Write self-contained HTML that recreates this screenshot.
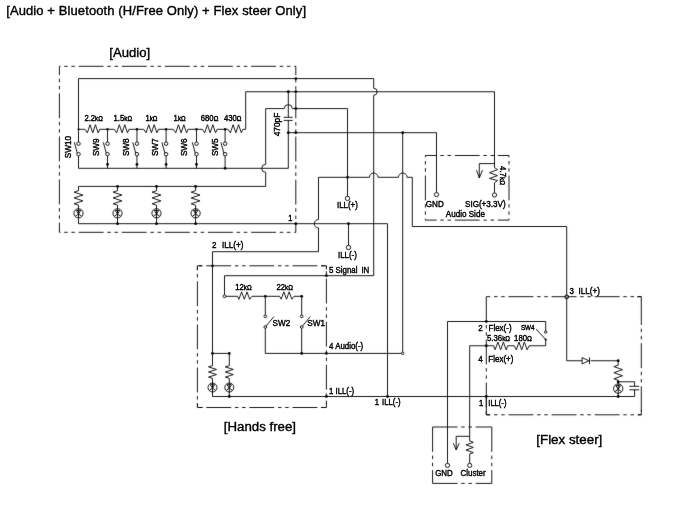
<!DOCTYPE html>
<html><head><meta charset="utf-8"><style>
html,body{margin:0;padding:0;background:#fff;}
svg{display:block;filter:grayscale(1);}
svg text{font-family:"Liberation Sans",sans-serif;fill:#000;stroke:#000;stroke-width:0.38px;}
path{fill:none;stroke:#000;stroke-width:0.9;}
.d{stroke-dasharray:24.9 3.7 3.5 3.7 3.5 3.8;}
.f{fill:#000;stroke:none;}
.o{fill:#fff;stroke:#000;stroke-width:0.9;}
</style></head><body>
<svg width="700" height="527" viewBox="0 0 700 527">
<defs><filter id="bl" x="0" y="0" width="700" height="527" filterUnits="userSpaceOnUse" color-interpolation-filters="sRGB"><feConvolveMatrix order="3" kernelMatrix="49 602 49 602 7396 602 49 602 49" divisor="10000" edgeMode="duplicate"/></filter></defs>
<rect width="700" height="527" fill="#fff"/>
<g filter="url(#bl)">
<rect width="700" height="527" fill="#fff"/>
<path d="M59.4,66.3 L295.8,66.3" class="d" stroke-dashoffset="23.80"/>
<path d="M59.4,66.3 L59.4,232.3" class="d" stroke-dashoffset="16.10"/>
<path d="M59.4,232.3 L295.8,232.3" class="d" stroke-dashoffset="23.80"/>
<path d="M295.8,66.3 L295.8,232.3" class="d" stroke-dashoffset="15.90"/>
<path d="M78.50,129.30 L78.50,78.60 L373.70,78.60" />
<path d="M373.7,78.6 L373.7,88.25 A3.5,3.5 0 0 1 373.7,95.25 L373.7,275.7 L326.4,275.7" />
<circle cx="295.8" cy="78.6" r="1.4" class="f"/>
<path d="M78.50,129.30 L84.90,129.30 L87.34,132.80 L90.04,124.70 L92.74,132.80 L95.44,124.70 L98.15,132.80 L99.70,129.30 L114.20,129.30 L116.64,132.80 L119.34,124.70 L122.04,132.80 L124.74,124.70 L127.45,132.80 L129.00,129.30 L143.60,129.30 L146.04,132.80 L148.74,124.70 L151.44,132.80 L154.15,124.70 L156.85,132.80 L158.40,129.30 L173.30,129.30 L175.74,132.80 L178.44,124.70 L181.14,132.80 L183.84,124.70 L186.55,132.80 L188.10,129.30 L202.30,129.30 L204.74,132.80 L207.44,124.70 L210.14,132.80 L212.84,124.70 L215.55,132.80 L217.10,129.30 L227.90,129.30 L230.38,132.80 L233.11,124.70 L235.85,132.80 L238.59,124.70 L241.32,132.80 L242.90,129.30 L245.70,129.30 L245.70,91.75" />
<circle cx="78.5" cy="129.3" r="1.0" class="f"/>
<circle cx="107.5" cy="129.3" r="1.2" class="f"/>
<circle cx="136.95" cy="129.3" r="1.2" class="f"/>
<circle cx="166.1" cy="129.3" r="1.2" class="f"/>
<circle cx="196.5" cy="129.3" r="1.2" class="f"/>
<circle cx="225.1" cy="129.3" r="1.2" class="f"/>
<path d="M245.70,91.75 L494.50,91.75 L494.50,167.60" />
<circle cx="288.3" cy="91.75" r="1.4" class="f"/>
<circle cx="295.8" cy="91.75" r="1.4" class="f"/>
<path d="M78.50,129.30 L78.50,142.00" />
<circle cx="78.5" cy="143.7" r="1.75" class="o" stroke-width="0.8"/>
<circle cx="78.5" cy="154.2" r="1.75" class="o" stroke-width="0.8"/>
<path d="M77.30,153.20 L74.30,142.30" />
<path d="M78.50,155.95 L78.50,168.30" />
<path d="M107.50,129.30 L107.50,142.00" />
<circle cx="107.5" cy="143.7" r="1.75" class="o" stroke-width="0.8"/>
<circle cx="107.5" cy="154.2" r="1.75" class="o" stroke-width="0.8"/>
<path d="M106.30,153.20 L103.30,142.30" />
<path d="M107.50,155.95 L107.50,168.30" />
<circle cx="107.5" cy="164.4" r="1.4" class="f"/>
<path d="M136.95,129.30 L136.95,142.00" />
<circle cx="136.95" cy="143.7" r="1.75" class="o" stroke-width="0.8"/>
<circle cx="136.95" cy="154.2" r="1.75" class="o" stroke-width="0.8"/>
<path d="M135.75,153.20 L132.75,142.30" />
<path d="M136.95,155.95 L136.95,168.30" />
<circle cx="136.95" cy="164.4" r="1.4" class="f"/>
<path d="M166.10,129.30 L166.10,142.00" />
<circle cx="166.1" cy="143.7" r="1.75" class="o" stroke-width="0.8"/>
<circle cx="166.1" cy="154.2" r="1.75" class="o" stroke-width="0.8"/>
<path d="M164.90,153.20 L161.90,142.30" />
<path d="M166.10,155.95 L166.10,168.30" />
<circle cx="166.1" cy="164.4" r="1.4" class="f"/>
<path d="M196.50,129.30 L196.50,142.00" />
<circle cx="196.5" cy="143.7" r="1.75" class="o" stroke-width="0.8"/>
<circle cx="196.5" cy="154.2" r="1.75" class="o" stroke-width="0.8"/>
<path d="M195.30,153.20 L192.30,142.30" />
<path d="M196.50,155.95 L196.50,168.30" />
<circle cx="196.5" cy="164.4" r="1.4" class="f"/>
<path d="M225.10,129.30 L225.10,142.00" />
<circle cx="225.1" cy="143.7" r="1.75" class="o" stroke-width="0.8"/>
<circle cx="225.1" cy="154.2" r="1.75" class="o" stroke-width="0.8"/>
<path d="M223.90,153.20 L220.90,142.30" />
<path d="M225.10,155.95 L225.10,168.30" />
<circle cx="225.1" cy="168.3" r="1.4" class="f"/>
<path d="M78.50,168.30 L288.30,168.30 L288.30,120.40" />
<path d="M283.70,117.30 L292.70,117.30" />
<path d="M283.70,120.40 L292.70,120.40" />
<path d="M288.30,91.75 L288.30,117.30" />
<circle cx="288.3" cy="132.7" r="1.4" class="f"/>
<path d="M288.30,132.70 L436.50,132.70 L436.50,192.50" />
<circle cx="295.8" cy="132.7" r="1.4" class="f"/>
<circle cx="402.7" cy="132.7" r="1.4" class="f"/>
<path d="M265.7,186.4 L265.7,172.3 A4,4 0 0 1 265.7,164.3 L265.7,108.6 L284.3,108.6 A4,4 0 0 1 292.3,108.6 L347.5,108.6 L347.5,196.4" />
<circle cx="295.8" cy="108.6" r="1.4" class="f"/>
<circle cx="347.5" cy="198.4" r="2.2" class="o" stroke-width="0.9"/>
<path d="M78.50,186.40 L265.70,186.40" />
<path d="M78.50,190.70 L74.10,192.15 L82.90,195.05 L74.10,197.95 L82.90,200.85 L74.10,203.75 L78.50,205.20 L78.50,223.70" />
<path d="M78.50,186.40 L78.50,190.70" />
<circle cx="78.5" cy="213.3" r="4.6" class="o"/>
<path d="M76.30,210.43 L80.70,210.43 L78.50,214.07 Z M78.50,214.07 L75.34,216.18 M78.50,214.07 L81.66,216.18 M78.50,208.70 L78.50,217.90" stroke-width="0.9"/>
<path d="M117.50,190.70 L113.10,192.15 L121.90,195.05 L113.10,197.95 L121.90,200.85 L113.10,203.75 L117.50,205.20 L117.50,223.70" />
<path d="M117.50,186.40 L117.50,190.70" />
<circle cx="117.5" cy="213.3" r="4.6" class="o"/>
<path d="M115.30,210.43 L119.70,210.43 L117.50,214.07 Z M117.50,214.07 L114.34,216.18 M117.50,214.07 L120.66,216.18 M117.50,208.70 L117.50,217.90" stroke-width="0.9"/>
<circle cx="117.5" cy="186.4" r="1.4" class="f"/>
<circle cx="117.5" cy="223.7" r="1.4" class="f"/>
<path d="M156.50,190.70 L152.10,192.15 L160.90,195.05 L152.10,197.95 L160.90,200.85 L152.10,203.75 L156.50,205.20 L156.50,223.70" />
<path d="M156.50,186.40 L156.50,190.70" />
<circle cx="156.5" cy="213.3" r="4.6" class="o"/>
<path d="M154.30,210.43 L158.70,210.43 L156.50,214.07 Z M156.50,214.07 L153.34,216.18 M156.50,214.07 L159.66,216.18 M156.50,208.70 L156.50,217.90" stroke-width="0.9"/>
<circle cx="156.5" cy="186.4" r="1.4" class="f"/>
<circle cx="156.5" cy="223.7" r="1.4" class="f"/>
<path d="M195.60,190.70 L191.20,192.15 L200.00,195.05 L191.20,197.95 L200.00,200.85 L191.20,203.75 L195.60,205.20 L195.60,223.70" />
<path d="M195.60,186.40 L195.60,190.70" />
<circle cx="195.6" cy="213.3" r="4.6" class="o"/>
<path d="M193.40,210.43 L197.80,210.43 L195.60,214.07 Z M195.60,214.07 L192.44,216.18 M195.60,214.07 L198.76,216.18 M195.60,208.70 L195.60,217.90" stroke-width="0.9"/>
<circle cx="195.6" cy="186.4" r="1.4" class="f"/>
<circle cx="195.6" cy="223.7" r="1.4" class="f"/>
<path d="M78.5,223.7 L387.5,223.7 L387.5,396.5" />
<circle cx="295.8" cy="223.7" r="1.4" class="f"/>
<circle cx="348.5" cy="223.7" r="1.4" class="f"/>
<path d="M348.50,223.70 L348.50,245.30" />
<circle cx="348.5" cy="247.5" r="2.2" class="o" stroke-width="0.9"/>
<path d="M412.3,226.5 L412.3,177.3 L407.0,177.3 A4.3,4.3 0 0 0 398.4,177.3 L378.0,177.3 A4.3,4.3 0 0 0 369.4,177.3 L318.5,177.3 L318.5,219.5 A4.2,4.2 0 0 0 318.5,227.89999999999998 L318.5,251.7 L212.5,251.7 L212.5,353.4 L229.3,353.4" />
<circle cx="347.5" cy="177.3" r="1.4" class="f"/>
<path d="M402.70,132.70 L402.70,352.20" />
<path d="M401.50,353.40 L326.40,353.40" />
<circle cx="402.7" cy="353.4" r="1.2" class="o" stroke-width="0.8"/>
<path d="M412.30,226.50 L566.70,226.50 L566.70,360.75 L582.10,360.75" />
<path d="M425.4,155.5 L509.0,155.5" class="d" stroke-dashoffset="13.70"/>
<path d="M425.4,155.5 L425.4,220.1" class="d" stroke-dashoffset="23.10"/>
<path d="M425.4,220.1 L509.0,220.1" class="d" stroke-dashoffset="13.70"/>
<path d="M509.0,155.5 L509.0,220.1" class="d" stroke-dashoffset="23.10"/>
<circle cx="436.5" cy="194.6" r="2.1" class="o" stroke-width="0.9"/>
<path d="M494.50,167.60 L497.50,169.60 L489.50,172.70 L497.50,175.60 L489.50,178.50 L497.50,180.50 L494.50,182.80 L494.50,192.90" />
<circle cx="494.5" cy="195.0" r="2.1" class="o" stroke-width="0.9"/>
<path d="M494.50,163.60 L479.30,163.60 L479.30,178.00" />
<path d="M476.50,170.00 L479.30,178.00 L482.50,170.00" />
<path d="M197.4,265.8 L326.4,265.8" class="d" stroke-dashoffset="34.20"/>
<path d="M197.4,265.8 L197.4,407.5" class="d" stroke-dashoffset="27.60"/>
<path d="M197.4,407.5 L326.4,407.5" class="d" stroke-dashoffset="34.20"/>
<path d="M326.4,265.8 L326.4,407.5" class="d" stroke-dashoffset="30.30"/>
<path d="M197.40,269.90 L197.40,265.80 L202.00,265.80" />
<path d="M321.20,265.80 L326.40,265.80 L326.40,269.40" />
<path d="M321.20,407.50 L326.40,407.50 L326.40,403.20" />
<path d="M197.40,403.40 L197.40,407.50 L202.50,407.50" />
<circle cx="212.5" cy="265.8" r="1.4" class="f"/>
<circle cx="212.5" cy="353.4" r="1.4" class="f"/>
<circle cx="229.3" cy="353.4" r="1.4" class="f"/>
<path d="M212.50,353.40 L212.50,365.60 L208.50,366.88 L216.50,369.44 L208.50,372.00 L216.50,374.56 L208.50,377.12 L212.50,378.40 L212.50,396.50" />
<circle cx="212.5" cy="387.5" r="4.5" class="o"/>
<path d="M210.34,384.69 L214.66,384.69 L212.50,388.25 Z M212.50,388.25 L209.41,390.31 M212.50,388.25 L215.59,390.31 M212.50,383.00 L212.50,392.00" stroke-width="0.9"/>
<path d="M229.30,353.40 L229.30,365.60 L225.30,366.88 L233.30,369.44 L225.30,372.00 L233.30,374.56 L225.30,377.12 L229.30,378.40 L229.30,396.50" />
<circle cx="229.3" cy="387.5" r="4.5" class="o"/>
<path d="M227.14,384.69 L231.46,384.69 L229.30,388.25 Z M229.30,388.25 L226.21,390.31 M229.30,388.25 L232.39,390.31 M229.30,383.00 L229.30,392.00" stroke-width="0.9"/>
<path d="M212.50,396.50 L634.60,396.50 L634.60,389.80" />
<circle cx="229.3" cy="396.5" r="1.4" class="f"/>
<circle cx="326.4" cy="396.5" r="1.4" class="f"/>
<circle cx="387.5" cy="396.5" r="1.4" class="f"/>
<circle cx="486.3" cy="396.5" r="1.4" class="f"/>
<circle cx="618.2" cy="396.5" r="1.4" class="f"/>
<path d="M326.40,275.70 L224.50,275.70 L224.50,294.90" />
<circle cx="326.4" cy="275.7" r="1.4" class="f"/>
<circle cx="224.5" cy="296.3" r="1.4" class="o" stroke-width="0.9"/>
<path d="M225.90,296.30 L237.60,296.30 L238.90,299.30 L241.60,291.90 L244.30,299.30 L247.00,291.90 L249.70,299.30 L252.00,296.30 L265.30,296.30 L279.60,296.30 L281.18,299.20 L283.85,291.80 L286.51,299.20 L289.18,291.80 L291.84,299.20 L294.00,296.30 L301.70,296.30" />
<circle cx="265.3" cy="296.3" r="1.4" class="f"/>
<circle cx="301.7" cy="296.3" r="1.4" class="f"/>
<path d="M265.30,296.30 L265.30,315.05" />
<circle cx="265.3" cy="316.4" r="1.35" class="o" stroke-width="0.8"/>
<circle cx="265.3" cy="327" r="1.35" class="o" stroke-width="0.8"/>
<path d="M266.10,326.00 L273.90,316.60" />
<path d="M265.30,328.35 L265.30,353.40" />
<path d="M301.70,296.30 L301.70,315.05" />
<circle cx="301.7" cy="316.4" r="1.35" class="o" stroke-width="0.8"/>
<circle cx="301.7" cy="327" r="1.35" class="o" stroke-width="0.8"/>
<path d="M302.50,326.00 L310.30,316.60" />
<path d="M301.70,328.35 L301.70,353.40" />
<path d="M265.30,353.40 L326.40,353.40" />
<circle cx="301.7" cy="353.4" r="1.4" class="f"/>
<circle cx="326.4" cy="353.4" r="1.4" class="f"/>
<path d="M486.3,296.7 L641.3,296.7" class="d" stroke-dashoffset="20.90"/>
<path d="M486.3,296.7 L486.3,414.8" class="d" stroke-dashoffset="0.30"/>
<path d="M486.3,414.8 L641.3,414.8" class="d" stroke-dashoffset="20.90"/>
<path d="M641.3,296.7 L641.3,414.8" class="d" stroke-dashoffset="39.70"/>
<path d="M637.20,296.70 L641.30,296.70 L641.30,300.50" />
<path d="M641.30,410.00 L641.30,414.80 L637.80,414.80" />
<path d="M486.30,396.50 L486.30,414.80 L490.00,414.80" />
<circle cx="566.7" cy="296.8" r="1.9" fill="#888" stroke="#000" stroke-width="1.0"/>
<path d="M447.50,463.40 L447.50,321.50 L545.70,321.50 L545.70,330.80" />
<circle cx="486.3" cy="321.5" r="1.4" class="f"/>
<circle cx="545.7" cy="332.0" r="1.2" class="o" stroke-width="0.8"/>
<circle cx="545.7" cy="339.6" r="1.1" class="f"/>
<path d="M545.20,339.00 L536.10,329.00" />
<path d="M545.70,339.60 L545.70,345.75 L529.10,345.75 L527.10,349.80 L524.40,342.00 L521.70,349.80 L519.00,342.00 L516.30,349.80 L514.30,345.75 L507.70,345.75 L506.15,349.80 L503.40,342.00 L500.65,349.80 L497.90,342.00 L495.15,349.80 L493.60,345.75 L469.70,345.75 L469.70,436.30" />
<circle cx="486.3" cy="345.75" r="1.4" class="f"/>
<path d="M590.70,360.75 L618.20,360.75" />
<path d="M582.10,357.55 L588.90,360.75 L582.10,363.95 L582.10,357.55" />
<path d="M589.50,357.35 L589.50,364.15" />
<circle cx="618.2" cy="360.75" r="1.4" class="f"/>
<path d="M618.20,365.10 L613.90,366.62 L622.50,369.66 L613.90,372.70 L622.50,375.74 L613.90,378.78 L618.20,380.30" />
<path d="M618.20,360.75 L618.20,365.10" />
<path d="M618.20,380.30 L618.20,396.50" />
<circle cx="618.2" cy="388.6" r="4.7" class="o"/>
<path d="M615.95,385.66 L620.45,385.66 L618.20,389.38 Z M618.20,389.38 L614.97,391.54 M618.20,389.38 L621.43,391.54 M618.20,383.90 L618.20,393.30" stroke-width="0.9"/>
<circle cx="618.2" cy="381.8" r="1.4" class="f"/>
<path d="M618.20,381.80 L634.60,381.80 L634.60,386.30" />
<path d="M629.30,386.30 L639.20,386.30" />
<path d="M629.30,389.80 L639.20,389.80" />
<path d="M432.6,427.0 L491.8,427.0" class="d" stroke-dashoffset="0.00" stroke-dasharray="24.2 3.4 3.9 3.4 40"/>
<path d="M432.6,427.0 L432.6,483.4" class="d" stroke-dashoffset="0.00" stroke-dasharray="22.6 3.4 3.8 3.7 40"/>
<path d="M432.6,483.4 L491.8,483.4" class="d" stroke-dashoffset="0.00" stroke-dasharray="24.2 3.4 3.9 3.4 40"/>
<path d="M491.8,427.0 L491.8,483.4" class="d" stroke-dashoffset="0.00" stroke-dasharray="22.6 3.4 3.8 3.7 40"/>
<circle cx="447.5" cy="465.4" r="2.1" class="o" stroke-width="0.9"/>
<path d="M469.70,436.30 L469.70,441.00 L473.30,442.29 L466.10,444.87 L473.30,447.45 L466.10,450.03 L473.30,452.61 L469.70,453.90 L469.70,463.30" />
<circle cx="469.7" cy="465.4" r="2.1" class="o" stroke-width="0.9"/>
<path d="M469.70,436.30 L456.20,436.30 L456.20,449.90" />
<path d="M453.30,443.20 L456.20,449.90 L459.20,443.20" />
</g>
<text x="0" y="0" font-size="13.0" text-anchor="start" transform="matrix(1 0 0 1.0 6.2 14.95)" letter-spacing="0.1">[Audio + Bluetooth (H/Free Only) + Flex steer Only]</text>
<text x="0" y="0" font-size="13.1" text-anchor="start" transform="matrix(1 0 0 1.0 109.3 56.9)" >[Audio]</text>
<text x="0" y="0" font-size="13.25" text-anchor="start" transform="matrix(1 0 0 1.0 223.8 431.4)" >[Hands free]</text>
<text x="0" y="0" font-size="13.35" text-anchor="start" transform="matrix(1 0 0 1.0 536.3 443.5)" >[Flex steer]</text>
<text x="0" y="0" font-size="7.5" text-anchor="start" transform="matrix(1 0 0 1.1 288.2 221.2)" >1</text>
<text x="0" y="0" font-size="7.9" text-anchor="start" transform="matrix(1 0 0 1.1 337.0 208.3)" >ILL(+)</text>
<text x="0" y="0" font-size="7.9" text-anchor="start" transform="matrix(1 0 0 1.1 338.0 257.6)" >ILL(-)</text>
<text x="0" y="0" font-size="7.9" text-anchor="start" transform="matrix(0 1 -1.1 0 499.6 166)" >4.7<tspan font-size="6.4">k&#937;</tspan></text>
<text x="0" y="0" font-size="8.1" text-anchor="start" transform="matrix(1 0 0 1.1 425.8 206.6)" >GND</text>
<text x="0" y="0" font-size="8.1" text-anchor="start" transform="matrix(1 0 0 1.1 465 206.6)" >SIG(+3.3V)</text>
<text x="0" y="0" font-size="8.1" text-anchor="start" transform="matrix(1 0 0 1.1 445.8 217.2)" >Audio Side</text>
<text x="0" y="0" font-size="8.0" text-anchor="start" transform="matrix(1 0 0 1.1 212.1 248.4)" >2</text>
<text x="0" y="0" font-size="8.2" text-anchor="start" transform="matrix(1 0 0 1.1 221.9 248.4)" >ILL(+)</text>
<text x="0" y="0" font-size="7.7" text-anchor="start" transform="matrix(1 0 0 1.1 235.3 289.9)" >12<tspan font-size="6.3">k&#937;</tspan></text>
<text x="0" y="0" font-size="7.7" text-anchor="start" transform="matrix(1 0 0 1.1 276.5 289.9)" >22<tspan font-size="6.3">k&#937;</tspan></text>
<text x="0" y="0" font-size="8.2" text-anchor="start" transform="matrix(1 0 0 1.1 272.6 326.0)" >SW2</text>
<text x="0" y="0" font-size="8.2" text-anchor="start" transform="matrix(1 0 0 1.1 307.2 326.0)" >SW1</text>
<text x="0" y="0" font-size="7.9" text-anchor="start" transform="matrix(1 0 0 1.1 328.9 272.9)" >5 Signal</text>
<text x="0" y="0" font-size="7.9" text-anchor="start" transform="matrix(1 0 0 1.1 361.4 272.9)" >IN</text>
<text x="0" y="0" font-size="7.9" text-anchor="start" transform="matrix(1 0 0 1.1 329.0 349.4)" >4 Audio(-)</text>
<text x="0" y="0" font-size="7.8" text-anchor="start" transform="matrix(1 0 0 1.1 329.0 394.0)" >1 ILL(-)</text>
<text x="0" y="0" font-size="7.8" text-anchor="start" transform="matrix(1 0 0 1.1 374.7 405.3)" >1</text>
<text x="0" y="0" font-size="7.8" text-anchor="start" transform="matrix(1 0 0 1.1 382.0 405.3)" >ILL(-)</text>
<text x="0" y="0" font-size="7.9" text-anchor="start" transform="matrix(1 0 0 1.1 569.5 293.5)" >3</text>
<text x="0" y="0" font-size="8.1" text-anchor="start" transform="matrix(1 0 0 1.1 578.6 293.5)" >ILL(+)</text>
<text x="0" y="0" font-size="8.0" text-anchor="start" transform="matrix(1 0 0 1.1 478.2 330.8)" >2</text>
<text x="0" y="0" font-size="8.0" text-anchor="start" transform="matrix(1 0 0 1.1 488.5 330.8)" >Flex(-)</text>
<text x="0" y="0" font-size="8.0" text-anchor="start" transform="matrix(1 0 0 1.1 478.2 361.8)" >4</text>
<text x="0" y="0" font-size="8.0" text-anchor="start" transform="matrix(1 0 0 1.1 488.3 361.8)" >Flex(+)</text>
<text x="0" y="0" font-size="7.6" text-anchor="start" transform="matrix(1 0 0 1.1 479.0 406.3)" >1</text>
<text x="0" y="0" font-size="7.6" text-anchor="start" transform="matrix(1 0 0 1.1 488.3 406.3)" >ILL(-)</text>
<text x="0" y="0" font-size="6.3" text-anchor="start" transform="matrix(1 0 0 1.1 520.9 330.0)" >SW4</text>
<text x="0" y="0" font-size="7.8" text-anchor="start" transform="matrix(1 0 0 1.1 487.0 340.9)" >5.36<tspan font-size="6.3">k&#937;</tspan></text>
<text x="0" y="0" font-size="7.8" text-anchor="start" transform="matrix(1 0 0 1.1 514.1 340.9)" >180<tspan font-size="6.6">&#937;</tspan></text>
<text x="0" y="0" font-size="7.9" text-anchor="start" transform="matrix(1 0 0 1.1 435.2 476.0)" >GND</text>
<text x="0" y="0" font-size="7.9" text-anchor="start" transform="matrix(1 0 0 1.1 460.6 476.0)" >Cluster</text>
<text x="0" y="0" font-size="8.2" text-anchor="start" transform="matrix(0 -1 1.1 0 71.3 158.2)" >SW10</text>
<text x="0" y="0" font-size="8.2" text-anchor="start" transform="matrix(0 -1 1.1 0 99.0 156.1)" >SW9</text>
<text x="0" y="0" font-size="8.2" text-anchor="start" transform="matrix(0 -1 1.1 0 129.3 156.1)" >SW8</text>
<text x="0" y="0" font-size="8.2" text-anchor="start" transform="matrix(0 -1 1.1 0 158.1 156.1)" >SW7</text>
<text x="0" y="0" font-size="8.2" text-anchor="start" transform="matrix(0 -1 1.1 0 187.3 156.1)" >SW6</text>
<text x="0" y="0" font-size="8.2" text-anchor="start" transform="matrix(0 -1 1.1 0 217.7 156.1)" >SW5</text>
<text x="0" y="0" font-size="7.7" text-anchor="start" transform="matrix(1 0 0 1.1 84.4 121)" >2.2<tspan font-size="6.2">k&#937;</tspan></text>
<text x="0" y="0" font-size="7.7" text-anchor="start" transform="matrix(1 0 0 1.1 113.6 121)" >1.5<tspan font-size="6.2">k&#937;</tspan></text>
<text x="0" y="0" font-size="7.7" text-anchor="start" transform="matrix(1 0 0 1.1 145.4 121)" >1<tspan font-size="6.2">k&#937;</tspan></text>
<text x="0" y="0" font-size="7.7" text-anchor="start" transform="matrix(1 0 0 1.1 173.6 121)" >1<tspan font-size="6.2">k&#937;</tspan></text>
<text x="0" y="0" font-size="7.7" text-anchor="start" transform="matrix(1 0 0 1.1 200.8 121)" >680<tspan font-size="6.2">&#937;</tspan></text>
<text x="0" y="0" font-size="7.7" text-anchor="start" transform="matrix(1 0 0 1.1 224.0 121)" >430<tspan font-size="6.2">&#937;</tspan></text>
<text x="0" y="0" font-size="8.3" text-anchor="start" transform="matrix(0 -1 1.1 0 280.3 136.3)" >470pF</text>
</svg>
</body></html>
